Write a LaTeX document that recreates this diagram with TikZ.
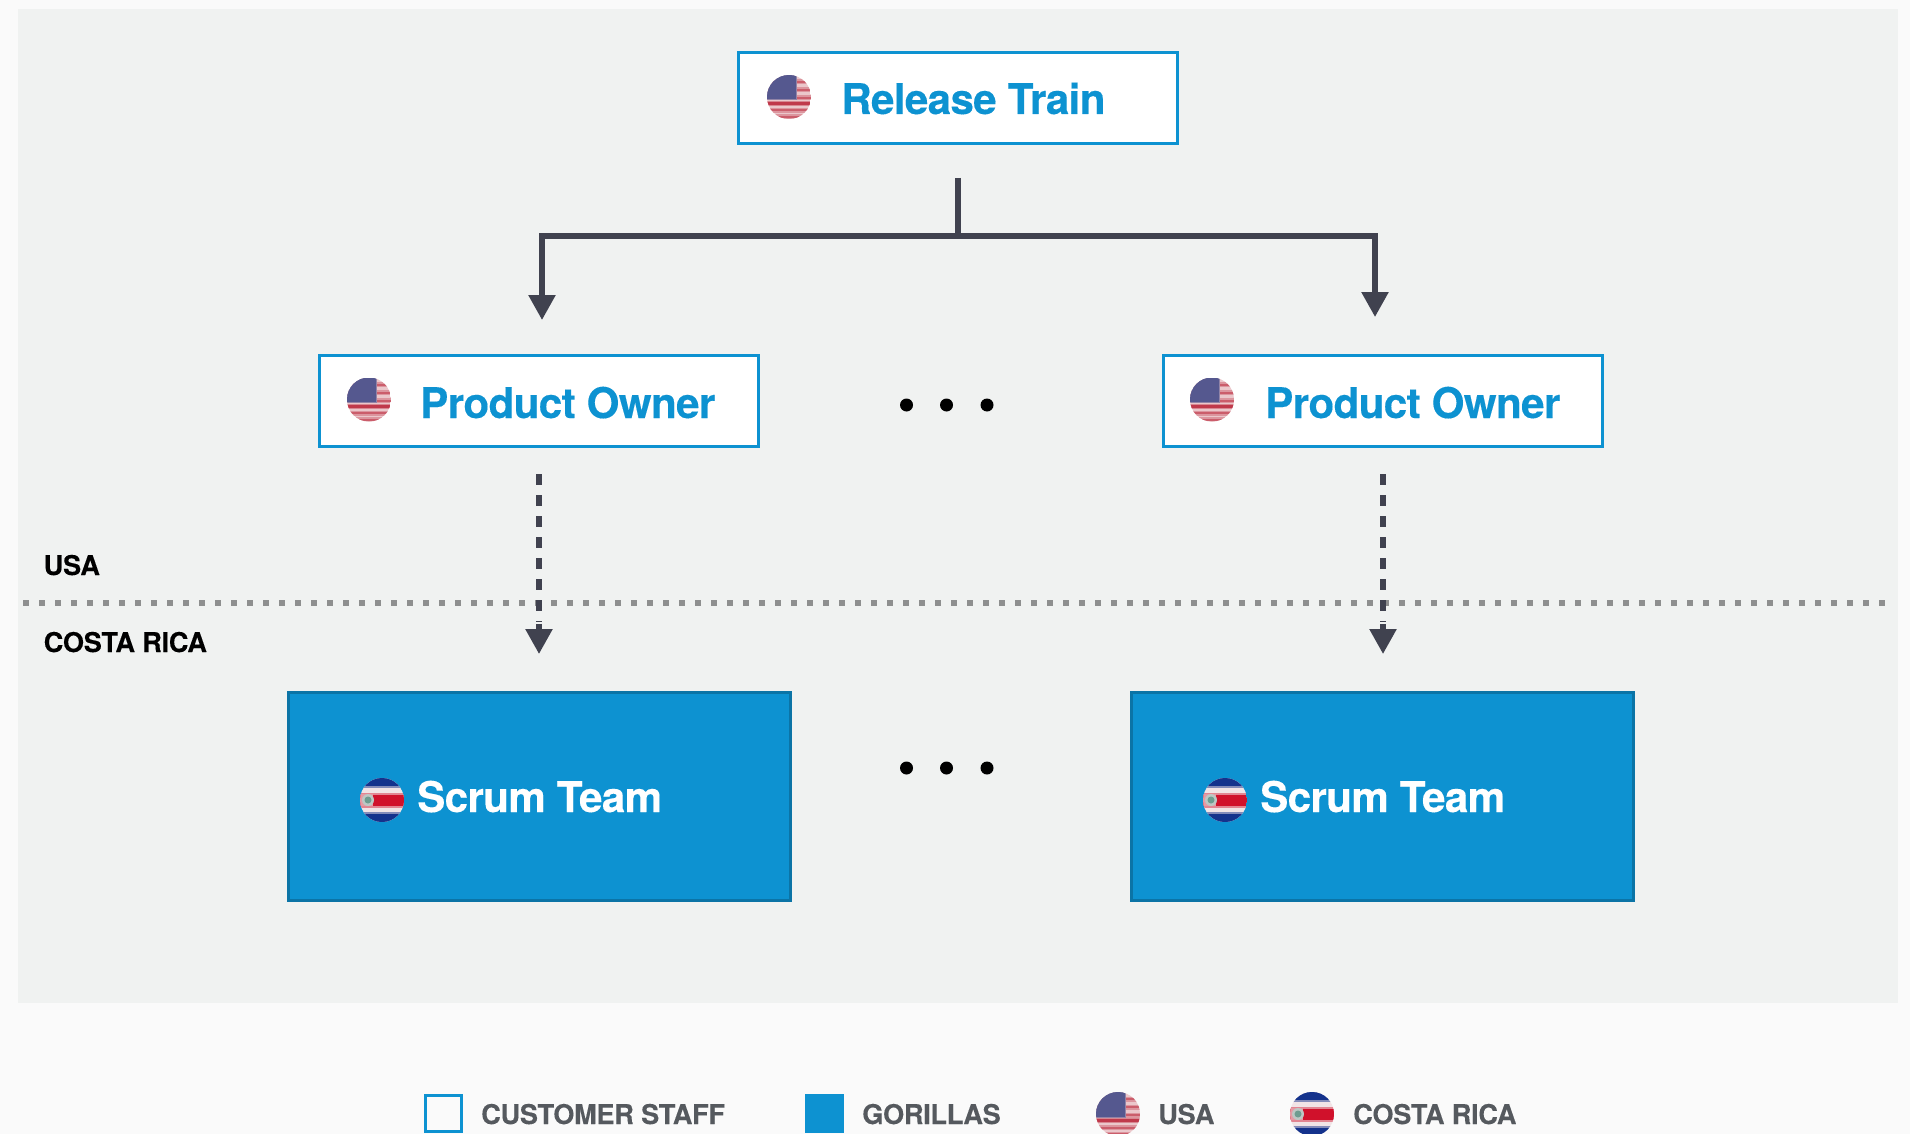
\documentclass[tikz,border=0pt]{standalone}
\usepackage{fontspec}
\setmainfont{TeX Gyre Heros}
\newfontfamily\headfont[BoldFont={TeX Gyre Heros Bold},BoldFeatures={LetterSpace=-1.6,FakeBold=0.25}]{TeX Gyre Heros}
\newfontfamily\smallfont[BoldFont={TeX Gyre Heros Bold},BoldFeatures={LetterSpace=-1.2,FakeBold=0.15}]{TeX Gyre Heros}
\usetikzlibrary{arrows.meta}
\definecolor{pagebg}{HTML}{FAFAFA}
\definecolor{panelbg}{HTML}{F0F2F1}
\definecolor{gblue}{HTML}{0D92D1}
\definecolor{gedge}{HTML}{0B74A6}
\definecolor{gline}{HTML}{40424F}
\definecolor{gdot}{HTML}{8E8F8F}
\definecolor{legtext}{HTML}{55595E}
\definecolor{uscanton}{HTML}{55588F}
\definecolor{usred}{HTML}{C0394B}
\definecolor{uspale}{HTML}{EBC7CB}
\definecolor{crblue}{HTML}{14328C}
\definecolor{crred}{HTML}{D0112B}
\definecolor{crwhite}{HTML}{F1E4E6}
\definecolor{crseal}{HTML}{6E9C90}
\tikzset{
  x=1pt,y=-1pt,
  whitebox/.style={draw=gblue,fill=white,line width=3pt,minimum width=#1,minimum height=91pt,inner sep=0pt},
  teambox/.style={draw=gedge,fill=gblue,line width=3pt,minimum width=502pt,minimum height=208pt,inner sep=0pt},
  titletext/.style={font=\headfont\fontsize{42.2}{43}\selectfont\bfseries,text=gblue,anchor=base west,inner sep=0pt},
  teamtext/.style={font=\headfont\fontsize{42.2}{43}\selectfont\bfseries,text=white,anchor=base west,inner sep=0pt},
  regiontext/.style={font=\smallfont\fontsize{27.2}{28}\selectfont\bfseries,text=black,anchor=base west,inner sep=0pt},
  legendtext/.style={font=\smallfont\fontsize{27.2}{28}\selectfont\bfseries,text=legtext,anchor=base west,inner sep=0pt},
  conn/.style={draw=gline,line width=5.5pt},
  conntip/.style={-{Triangle[length=25pt,width=26pt]}},
  dashconn/.style={conn,dash pattern=on 11pt off 10pt},
  ellipsisdot/.style={circle,fill=black,minimum size=13pt,inner sep=0pt},
  flagusa/.pic={
    \begin{scope}
      \clip (0,0) circle (22);
      \fill[uspale] (-22,-22) rectangle (22,22);
      \foreach \yy in {-15,-7,1,13.5,20}{
        \fill[usred!35!uspale] (-22,\yy-2.5) rectangle (22,\yy+2.5);
        \fill[usred!75!uspale] (-22,\yy-1) rectangle (22,\yy+1);}
      \fill[usred!45!uspale] (-22,4) rectangle (22,9);
      \fill[usred] (-22,5) rectangle (22,8);
      \fill[uscanton!60!uspale] (-22,-22) rectangle (8,3.5);
      \fill[uscanton] (-22,-22) rectangle (7,2.5);
    \end{scope}
  },
  flagcr/.pic={
    \begin{scope}
      \clip (0,0) circle (22);
      \fill[crwhite] (-22,-22) rectangle (22,22);
      \fill[crblue!50!crwhite] (-22,-22) rectangle (22,-12);
      \fill[crblue!50!crwhite] (-22,12) rectangle (22,22);
      \fill[crblue] (-22,-22) rectangle (22,-14);
      \fill[crblue] (-22,14) rectangle (22,22);
      \fill[crred!45!crwhite] (-22,-7.5) rectangle (22,7.5);
      \fill[crred] (-22,-5.5) rectangle (22,5.5);
      \fill[crred!35!crwhite] (-23,-6) rectangle (-9,6);
      \fill[crseal!40!crwhite] (-14,0) circle (6);
      \fill[crseal] (-14,0) circle (3.5);
    \end{scope}
  }
}
\begin{document}
\begin{tikzpicture}
\useasboundingbox (0,0) rectangle (1910,1134);
\fill[pagebg] (0,0) rectangle (1910,1134);
\fill[panelbg] (18,9) rectangle (1898,1003);

% boxes
\node[whitebox=439pt] (rt) at (958,98) {};
\node[whitebox=439pt] (po1) at (539,401) {};
\node[whitebox=439pt] (po2) at (1382.5,401) {};
\node[teambox] (st1) at (539,796) {};
\node[teambox] (st2) at (1382.5,796) {};

% flags and box labels
\pic at (789,97) {flagusa};
\node[titletext] (rtl) at (841,114) {Release Train};
\pic at (369,399.5) {flagusa};
\node[titletext] (po1l) at (420,418) {Product Owner};
\pic at (1212,399.5) {flagusa};
\node[titletext] (po2l) at (1265,418) {Product Owner};
\pic at (382,800) {flagcr};
\node[teamtext] (st1l) at (417,812) {Scrum Team};
\pic at (1225,800) {flagcr};
\node[teamtext] (st2l) at (1260,812) {Scrum Team};

% region divider
\coordinate (divl) at (23,603);
\coordinate (divr) at (1888,603);
\draw[gdot,line width=5.5pt,dash pattern=on 5.5pt off 10.5pt] (divl) -- (divr);
\node[regiontext] (usa) at (43.5,575) {USA};
\node[regiontext] (cr) at (43.5,652) {COSTA RICA};

% connectors
\coordinate (stem) at (958,178);
\coordinate (bus) at (958,236);
\coordinate (tipl) at (542,320);
\coordinate (tipr) at (1375,317);
\draw[conn] (stem) -- (bus);
\draw[conn,conntip] (bus) -| (tipl);
\draw[conn,conntip] (bus) -| (tipr);
\coordinate (d1a) at (539,474);
\coordinate (d1b) at (539,654);
\coordinate (d2a) at (1383,474);
\coordinate (d2b) at (1383,654);
\draw[dashconn] (d1a) -- (539,622);
\draw[dashconn] (d2a) -- (1383,622);
\draw[conn,conntip] (539,624) -- (d1b);
\draw[conn,conntip] (1383,624) -- (d2b);

% ellipses
\foreach \nn/\xx in {a/906.5,b/946.5,c/987}{
  \node[ellipsisdot] (top\nn) at (\xx,405) {};
  \node[ellipsisdot] (bot\nn) at (\xx,768) {};
}

% legend
\node[draw=gblue,fill=pagebg,line width=3pt,minimum width=36pt,minimum height=36pt,inner sep=0pt] (legw) at (443.5,1113.5) {};
\node[legendtext] (legwl) at (481,1124) {CUSTOMER STAFF};
\node[fill=gblue,minimum width=39pt,minimum height=39pt,inner sep=0pt] (legb) at (824.5,1113.5) {};
\node[legendtext] (legbl) at (862,1124) {GORILLAS};
\pic at (1118,1114) {flagusa};
\node[legendtext] (legul) at (1158,1124) {USA};
\pic at (1312,1114) {flagcr};
\node[legendtext] (legcl) at (1353,1124) {COSTA RICA};
\end{tikzpicture}
\end{document}
